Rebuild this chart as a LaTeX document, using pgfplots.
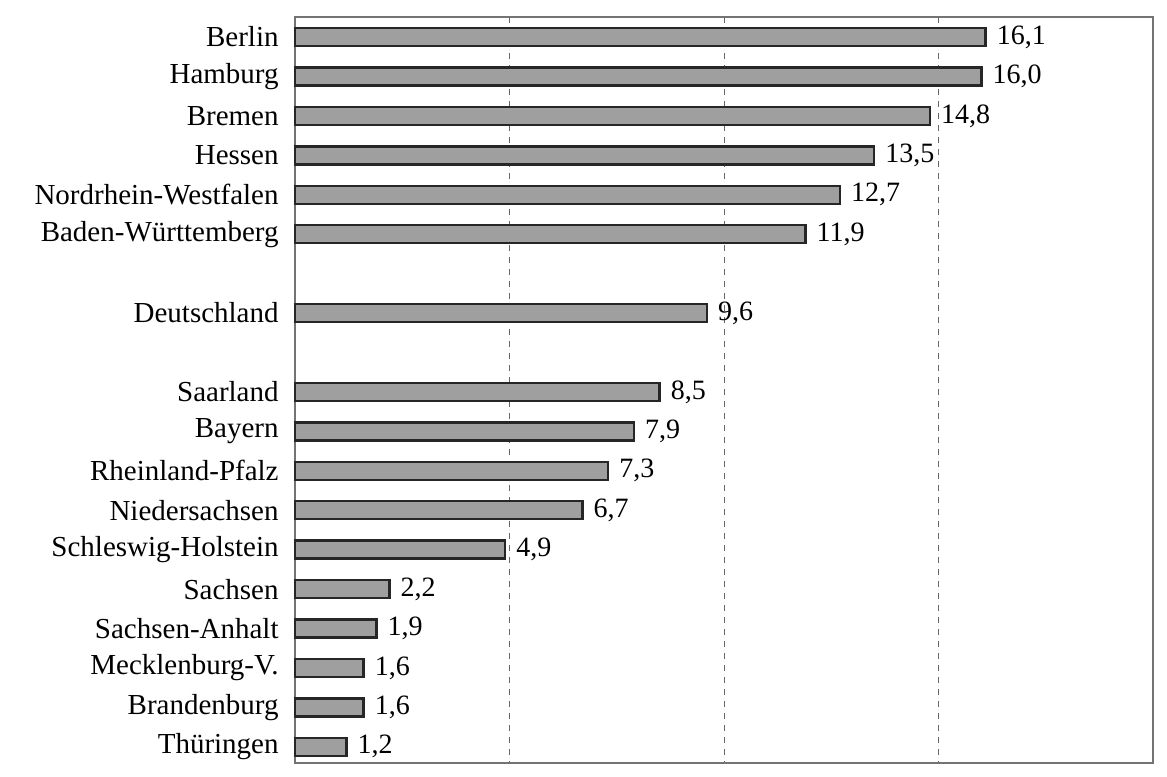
\documentclass[border=0pt]{standalone}
\usepackage{pgfplots}
\pgfplotsset{compat=1.18}
\usepackage{fontspec}
\setmainfont{Liberation Serif}

\begin{document}
\begin{tikzpicture}
\begin{axis}[
    xbar,
    scale only axis,
    width=429pt, height=373pt,
    at={(0,0)}, anchor=south west,
    xmin=0, xmax=20,
    ymin=-0.507, ymax=18.41,
    y dir=reverse,
    bar width=9pt,
    axis line style={draw=black!55, line width=0.6pt},
    xtick={5,10,15},
    xticklabels={},
    xmajorgrids=true,
    grid style={dashed, black!60, line width=0.4pt},
    major tick length=0pt,
    ytick={0,1,2,3,4,5,7,9,10,11,12,13,14,15,16,17,18},
    yticklabels={Berlin,Hamburg,Bremen,Hessen,Nordrhein-Westfalen,Baden-Württemberg,Deutschland,Saarland,Bayern,Rheinland-Pfalz,Niedersachsen,Schleswig-Holstein,Sachsen,Sachsen-Anhalt,Mecklenburg-V.,Brandenburg,Thüringen},
    yticklabel style={font=\fontsize{14.5}{17}\selectfont, inner sep=0pt},
    yticklabel shift=8pt,
    nodes near coords,
    nodes near coords style={
        font=\fontsize{14}{16}\selectfont,
        anchor=west, inner sep=0pt, xshift=5pt,
        /pgf/number format/.cd, fixed, fixed zerofill, precision=1, use comma, assume math mode=true},
    clip=false,
]
\addplot[fill=gray!75, draw=black!85, line width=1.2pt] coordinates {
    (16.1,0) (16.0,1) (14.8,2) (13.5,3) (12.7,4) (11.9,5)
    (9.6,7)
    (8.5,9) (7.9,10) (7.3,11) (6.7,12) (4.9,13)
    (2.2,14) (1.9,15) (1.6,16) (1.6,17) (1.2,18)
};
\end{axis}
\path[use as bounding box] (-147.5pt,-1pt) rectangle (436pt,381.5pt);
\end{tikzpicture}
\end{document}
